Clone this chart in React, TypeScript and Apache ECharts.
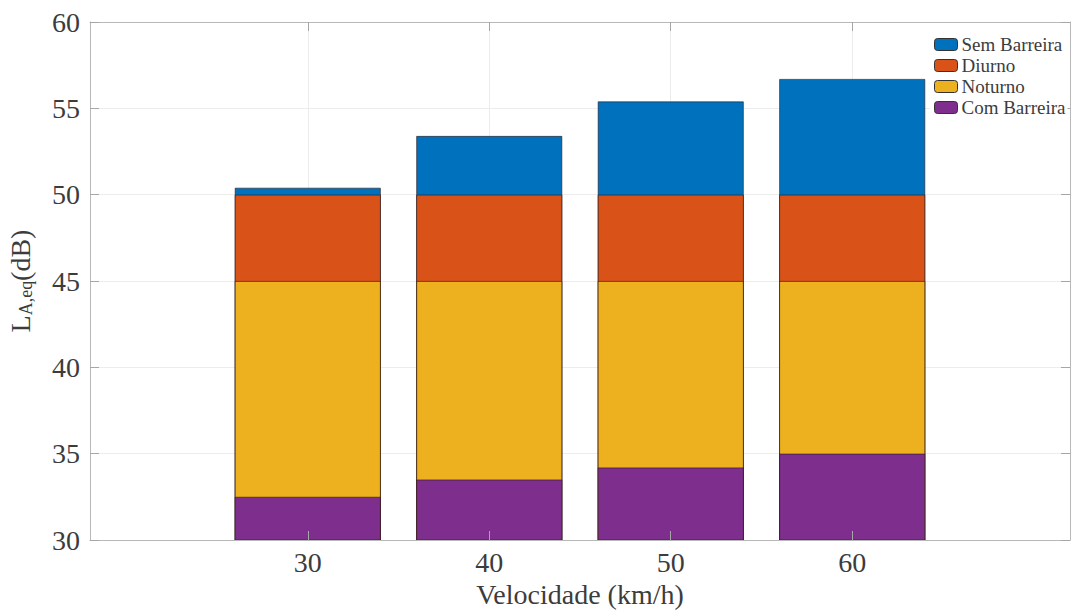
import React, { useEffect, useRef } from "react";
import * as echarts from "echarts";

const speeds = [30, 40, 50, 60];
const semBarreira = [50.4, 53.4, 55.4, 56.7];
const diurno = [50, 50, 50, 50];
const noturno = [45, 45, 45, 45];
const comBarreira = [32.5, 33.5, 34.2, 35.0];
const seriesNames = ["Sem Barreira", "Diurno", "Noturno", "Com Barreira"];
const colors = ["#0072BD", "#D95319", "#EDB120", "#7E2F8E"];

const FONT = "'Liberation Serif', 'Times New Roman', serif";
const AXIS_GRAY = "#b8b8b8";
const TICK_GRAY = "#a6a6a6";
const TEXT_GRAY = "#3c3c3c";

export default function App() {
  const ref = useRef<HTMLDivElement>(null);

  useEffect(() => {
    if (!ref.current) return;
    const chart = echarts.init(ref.current, undefined, { renderer: "svg" });
    const values = [semBarreira, diurno, noturno, comBarreira];

    const baseX = { type: "value", min: 18, max: 72, gridIndex: 0 };
    const baseY = { type: "value", min: 30, max: 60, interval: 5, gridIndex: 0 };

    chart.setOption({
      animation: false,
      backgroundColor: "#ffffff",
      textStyle: { fontFamily: FONT },
      grid: { left: 90, right: 1, top: 22, bottom: 72, containLabel: false, outerBoundsMode: "none" },
      legend: {
        orient: "vertical",
        left: 930,
        top: 33,
        itemWidth: 23,
        itemHeight: 12,
        itemGap: 2,
        padding: [2, 2, 2, 4],
        backgroundColor: "#ffffff",
        z: 20,
        textStyle: { fontFamily: FONT, fontSize: 19, lineHeight: 19, color: TEXT_GRAY, padding: [0, 0, 0, -1] },
        itemStyle: { borderColor: "#333333", borderWidth: 1 },
        data: seriesNames,
      },
      xAxis: [
        {
          ...baseX,
          position: "bottom",
          axisLine: { show: false },
          axisTick: { show: false, customValues: speeds },
          axisLabel: { show: false, customValues: speeds },
          splitLine: { show: true, lineStyle: { color: "#ececec", width: 1 } },
        },
        {
          ...baseX,
          position: "bottom",
          z: 10,
          axisLine: { show: true, lineStyle: { color: AXIS_GRAY, width: 1 } },
          axisTick: { show: true, inside: true, length: 9, customValues: speeds, lineStyle: { color: TICK_GRAY } },
          axisLabel: { show: true, customValues: speeds, fontFamily: FONT, fontSize: 28, color: TEXT_GRAY, margin: 8 },
          splitLine: { show: false },
          name: "Velocidade (km/h)",
          nameLocation: "middle",
          nameGap: 40,
          nameTextStyle: { fontFamily: FONT, fontSize: 28, color: TEXT_GRAY },
        },
        {
          ...baseX,
          position: "top",
          z: 10,
          axisLine: { show: true, lineStyle: { color: AXIS_GRAY, width: 1 } },
          axisTick: { show: true, inside: true, length: 9, customValues: speeds, lineStyle: { color: TICK_GRAY } },
          axisLabel: { show: false, customValues: speeds },
          splitLine: { show: false },
        },
      ],
      yAxis: [
        {
          ...baseY,
          position: "left",
          axisLine: { show: false },
          axisTick: { show: false },
          axisLabel: { show: false },
          splitLine: { show: true, lineStyle: { color: "#ececec", width: 1 } },
        },
        {
          ...baseY,
          position: "left",
          z: 10,
          axisLine: { show: true, lineStyle: { color: AXIS_GRAY, width: 1 } },
          axisTick: { show: true, inside: true, length: 9, lineStyle: { color: TICK_GRAY } },
          axisLabel: { show: true, fontFamily: FONT, fontSize: 28, color: TEXT_GRAY, margin: 10 },
          splitLine: { show: false },
          name: "L{sub|A,eq}(dB)",
          nameLocation: "middle",
          nameGap: 55,
          nameRotate: 90,
          nameTextStyle: {
            fontFamily: FONT,
            fontSize: 28,
            color: TEXT_GRAY,
            rich: {
              sub: { fontFamily: FONT, fontSize: 18, color: TEXT_GRAY, padding: [12, 0, 0, 0] },
            },
          },
        },
        {
          ...baseY,
          position: "right",
          z: 10,
          axisLine: { show: true, lineStyle: { color: AXIS_GRAY, width: 1 } },
          axisTick: { show: true, inside: true, length: 9, lineStyle: { color: TICK_GRAY } },
          axisLabel: { show: false },
          splitLine: { show: false },
        },
      ],
      series: seriesNames.map((name, i) => ({
        name,
        type: "bar",
        xAxisIndex: 0,
        yAxisIndex: 0,
        barWidth: 146,
        barGap: "-100%",
        z: 2 + i,
        itemStyle: { color: colors[i], borderColor: "rgba(40,20,20,0.75)", borderWidth: 0.8 },
        data: speeds.map((s, j) => [s, values[i][j]]),
      })),
    });

    return () => chart.dispose();
  }, []);

  return (
    <div
      ref={ref}
      style={{ position: "fixed", left: 0, top: 0, width: 1071, height: 612, background: "#fff" }}
    />
  );
}
